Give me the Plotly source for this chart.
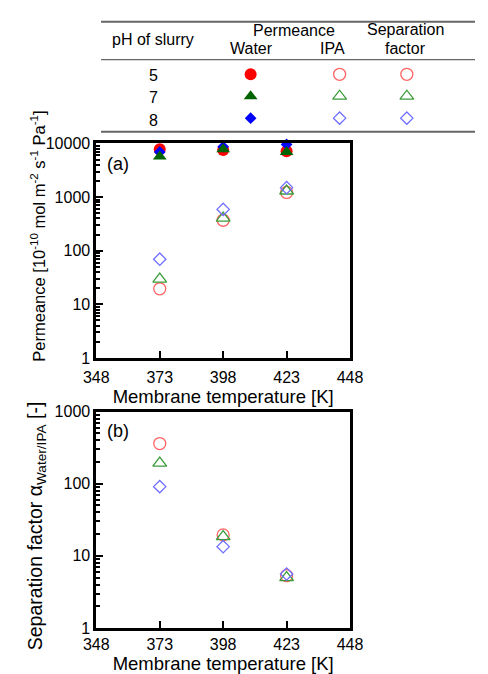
import plotly.graph_objects as go

# ---------------- data ----------------
temps = [373, 398, 423]
ph_levels = ["5", "7", "8"]

water_ph5 = [7800, 7600, 7200]
water_ph7 = [5700, 7800, 6950]
water_ph8 = [6950, 8700, 9600]

ipa_ph5 = [19.5, 370, 1220]
ipa_ph7 = [29.5, 405, 1300]
ipa_ph8 = [69.5, 590, 1500]

sep_ph5 = [360, 19.5, 5.3]
sep_ph7 = [193, 18.5, 5.0]
sep_ph8 = [91, 13.4, 5.6]

x_ticks = [348, 373, 398, 423, 448]
perm_ticks = [1, 10, 100, 1000, 10000]
sep_ticks = [1, 10, 100, 1000]

table_perm_cols = ["Water", "IPA"]
table_sep_cols = ["Separation factor"]

# ---------------- styles ----------------
W, H = 488, 674
FONT = "Liberation Sans, Arial, sans-serif"

filled = {
    "5": dict(symbol="circle", color="#ff0000", size=12),
    "7": dict(symbol="triangle-up", color="#006400", size=12),
    "8": dict(symbol="diamond", color="#0000ff", size=9),
}
opened = {
    "5": dict(symbol="circle-open", color="#ff6464", size=12, line=dict(width=1.3, color="#ff6464")),
    "7": dict(symbol="triangle-up-open", color="#3c9c3c", size=12, line=dict(width=1.3, color="#3c9c3c")),
    "8": dict(symbol="diamond-open", color="#6e6eff", size=9.5, line=dict(width=1.3, color="#6e6eff")),
}

water = {"5": water_ph5, "7": water_ph7, "8": water_ph8}
ipa = {"5": ipa_ph5, "7": ipa_ph7, "8": ipa_ph8}
sep = {"5": sep_ph5, "7": sep_ph7, "8": sep_ph8}

fig = go.Figure()

# panel (a): IPA open markers
for ph in ["5", "7", "8"]:
    fig.add_trace(go.Scatter(x=temps, y=ipa[ph], mode="markers", marker=opened[ph],
                             xaxis="x", yaxis="y", showlegend=False, cliponaxis=False))
# panel (a): water filled markers
for ph in ["5", "8", "7"]:
    fig.add_trace(go.Scatter(x=temps, y=water[ph], mode="markers", marker=filled[ph],
                             xaxis="x", yaxis="y", showlegend=False, cliponaxis=False))
# panel (b): separation factor
for ph in ["5", "7", "8"]:
    fig.add_trace(go.Scatter(x=temps, y=sep[ph], mode="markers", marker=opened[ph],
                             xaxis="x2", yaxis="y2", showlegend=False, cliponaxis=False))

# table symbols
for ph in ph_levels:
    fig.add_trace(go.Scatter(x=[table_perm_cols[0]], y=[ph], mode="markers", marker=filled[ph],
                             xaxis="x3", yaxis="y3", showlegend=False))
    fig.add_trace(go.Scatter(x=[table_perm_cols[1]], y=[ph], mode="markers", marker=opened[ph],
                             xaxis="x3", yaxis="y3", showlegend=False))
    fig.add_trace(go.Scatter(x=[table_sep_cols[0]], y=[ph], mode="markers", marker=opened[ph],
                             xaxis="x4", yaxis="y4", showlegend=False))


def px_x(p):
    return p / W


def px_y(p):
    return 1 - p / H


minor_vals = [m * 10 ** k for k in range(0, 4) for m in range(2, 10)]


def x_axis(label_pad, title_pad):
    return dict(range=[348, 448], tickvals=x_ticks, ticktext=[str(v) for v in x_ticks],
                ticks="inside", ticklen=7, tickwidth=2, tickcolor="black",
                ticklabelstandoff=label_pad,
                showline=True, linecolor="black", linewidth=2.8, mirror=True,
                showgrid=False, zeroline=False,
                tickfont=dict(size=16, color="black", family=FONT),
                title=dict(text="Membrane temperature [K]", font=dict(size=18.5, color="black", family=FONT),
                           standoff=title_pad))


common_y = dict(type="log", ticks="inside", ticklen=7, tickwidth=2, tickcolor="black",
                showline=True, linecolor="black", linewidth=2.8, mirror=True,
                showgrid=False, zeroline=False,
                tickfont=dict(size=16, color="black", family=FONT),
                minor=dict(ticks="inside", ticklen=4, tickwidth=1.5, tickcolor="black",
                           tickmode="array", tickvals=minor_vals, showgrid=False))

fig.update_layout(
    width=W, height=H,
    margin=dict(l=0, r=0, t=0, b=0),
    paper_bgcolor="white", plot_bgcolor="white",
    font=dict(family=FONT, color="black"),
    xaxis=dict(domain=[px_x(88), px_x(356)], anchor="y", **x_axis(3, 5)),
    yaxis=dict(domain=[px_y(359), px_y(139)], anchor="x", range=[0, 4],
               tickvals=perm_ticks, ticktext=[str(v) for v in perm_ticks], **common_y),
    xaxis2=dict(domain=[px_x(88), px_x(356)], anchor="y2", **x_axis(0, 4)),
    yaxis2=dict(domain=[px_y(636), px_y(414)], anchor="x2", range=[0, 3],
                tickvals=sep_ticks, ticktext=[str(v) for v in sep_ticks], **common_y),
    xaxis3=dict(domain=[px_x(204), px_x(392)], anchor="y3", type="category",
                categoryorder="array", categoryarray=table_perm_cols, range=[-0.5, 1.5],
                visible=False),
    yaxis3=dict(domain=[px_y(124.25), px_y(56.75)], anchor="x3", type="category",
                categoryorder="array", categoryarray=ph_levels, range=[2.5, -0.5],
                visible=False),
    xaxis4=dict(domain=[px_x(398), px_x(434)], anchor="y4", type="category",
                categoryarray=table_sep_cols, range=[-0.5, 0.5], visible=False),
    yaxis4=dict(domain=[px_y(124.25), px_y(56.75)], anchor="x4", type="category",
                categoryorder="array", categoryarray=ph_levels, range=[2.5, -0.5],
                visible=False),
)

# table lines
for yy, w in [(14, 2), (53, 1.2), (127, 2)]:
    fig.add_shape(type="line", xref="paper", yref="paper", x0=px_x(93), x1=1,
                  y0=px_y(yy), y1=px_y(yy), line=dict(color="#666666", width=w))

ann = []


def text(x, y, s, size=16, **kw):
    ann.append(dict(x=px_x(x), y=px_y(y), xref="paper", yref="paper", text=s, showarrow=False,
                    xanchor="center", yanchor="middle", font=dict(size=size, color="black", family=FONT), **kw))


text(148, 32, "pH of slurry")
text(297, 23, "Permeance")
text(252, 42, "Water")
text(337, 42, "IPA")
text(415, 22, "Separation")
text(415, 42, "factor")
for ph, yy in zip(ph_levels, [69, 92, 115]):
    text(148, yy, ph)

text(111, 160, "(a)", size=18)
text(111, 434, "(b)", size=18)

text(27, 234, "Permeance [10<sup>-10</sup> mol m<sup>-2</sup> s<sup>-1</sup> Pa<sup>-1</sup>]",
     size=16.5, textangle=-90)
text(25, 531, "Separation factor α<sub>Water/IPA</sub> [-]", size=19.5, textangle=-90)

fig.update_layout(annotations=ann)

fig.write_html("out.html")
